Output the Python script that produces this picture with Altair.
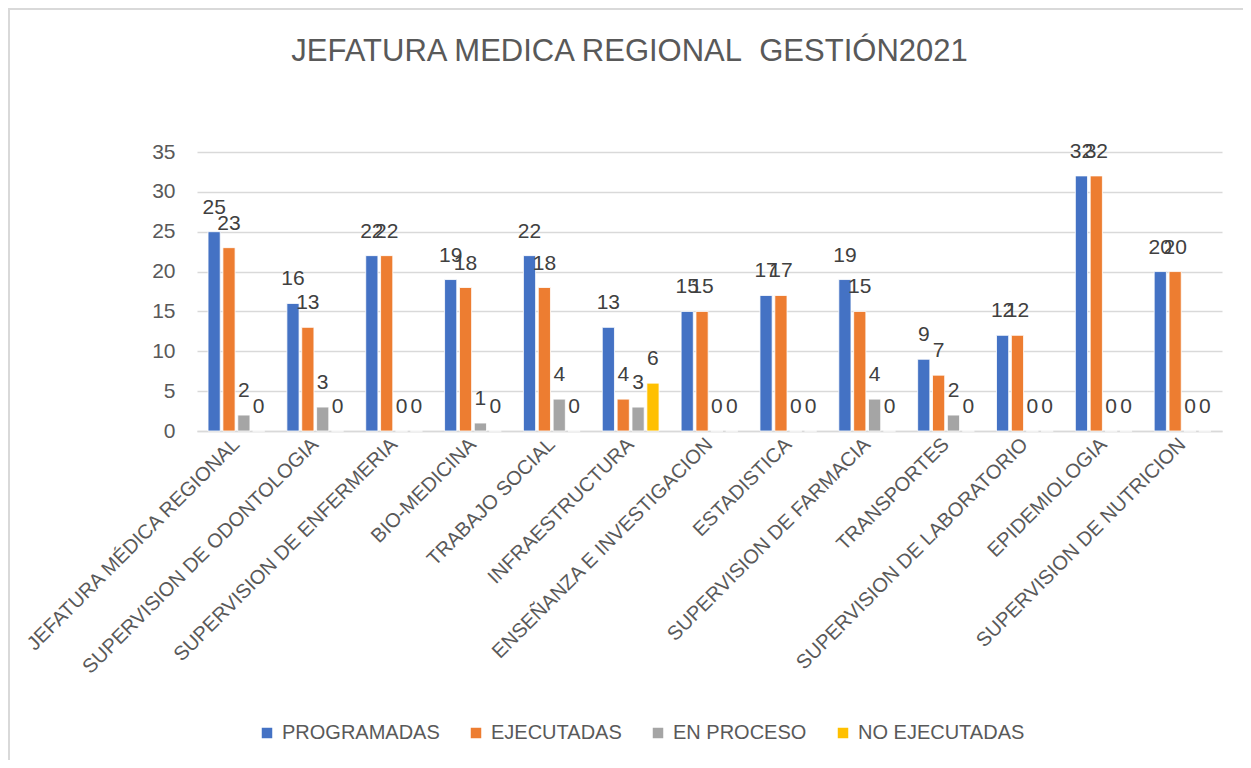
import altair as alt
import pandas as pd

categories = ["JEFATURA MÉDICA REGIONAL", "SUPERVISION DE ODONTOLOGIA", "SUPERVISION DE ENFERMERIA",
              "BIO-MEDICINA", "TRABAJO SOCIAL", "INFRAESTRUCTURA", "ENSEÑANZA E INVESTIGACION",
              "ESTADISTICA", "SUPERVISION DE FARMACIA", "TRANSPORTES", "SUPERVISION DE LABORATORIO",
              "EPIDEMIOLOGIA", "SUPERVISION DE NUTRICION"]
series = ["PROGRAMADAS", "EJECUTADAS", "EN PROCESO", "NO EJECUTADAS"]
programadas = [25, 16, 22, 19, 22, 13, 15, 17, 19, 9, 12, 32, 20]
ejecutadas = [23, 13, 22, 18, 18, 4, 15, 17, 15, 7, 12, 32, 20]
en_proceso = [2, 3, 0, 1, 4, 3, 0, 0, 4, 2, 0, 0, 0]
no_ejecutadas = [0, 0, 0, 0, 0, 6, 0, 0, 0, 0, 0, 0, 0]
colors = ["#4472C4", "#ED7D31", "#A5A5A5", "#FFC000"]

rows = []
for s, vals in zip(series, [programadas, ejecutadas, en_proceso, no_ejecutadas]):
    for c, v in zip(categories, vals):
        rows.append({"cat": c, "serie": s, "valor": v})
df = pd.DataFrame(rows)

FONT = "Liberation Sans"
TXT = "#595959"

base = alt.Chart(df).encode(
    x=alt.X("cat:N", sort=categories, title=None,
            scale=alt.Scale(paddingInner=0.28, paddingOuter=0.14),
            axis=alt.Axis(labelAngle=-45, labelAlign="right", labelBaseline="middle",
                          labelFontSize=20, labelColor=TXT, labelFont=FONT,
                          labelPadding=10, ticks=False, domainColor="#d9d9d9",
                          domainWidth=1.5, labelLimit=400)),
    xOffset=alt.XOffset("serie:N", sort=series, scale=alt.Scale(paddingInner=0.18)),
    y=alt.Y("valor:Q", title=None,
            scale=alt.Scale(domain=[0, 35], nice=False),
            axis=alt.Axis(values=[0, 5, 10, 15, 20, 25, 30, 35], labelFontSize=21,
                          labelColor=TXT, labelFont=FONT, ticks=False, domain=False,
                          gridColor="#d9d9d9", gridWidth=1.5, labelPadding=22)),
)

bars = base.mark_bar(stroke="white", strokeWidth=0.8).encode(
    color=alt.Color("serie:N", sort=series, scale=alt.Scale(domain=series, range=colors),
                    legend=alt.Legend(title=None, orient="none", direction="horizontal",
                                      legendX=60, legendY=571,
                                      symbolType="square", symbolSize=110,
                                      symbolStrokeWidth=0, labelLimit=400,
                                      labelFontSize=20, labelColor=TXT, labelFont=FONT,
                                      columnPadding=26, labelOffset=5))
)

labels = base.mark_text(baseline="alphabetic", dy=-18, fontSize=21, color="#404040", font=FONT).encode(
    text=alt.Text("valor:Q")
)

frame = alt.Chart(pd.DataFrame({"a": [0]})).mark_rect(
    fill=None, stroke="#d9d9d9", strokeWidth=2, clip=False
).encode(
    x=alt.value(-188), x2=alt.value(1060), y=alt.value(-143), y2=alt.value(640)
)

chart = alt.layer(frame, bars, labels).properties(
    width=1025, height=279,
    padding={"left": 189, "top": 144, "right": 21, "bottom": 329},
    autosize=alt.AutoSizeParams(type="none"),
    title=alt.TitleParams("JEFATURA MEDICA REGIONAL\u00a0 GESTIÓN2021", fontSize=31,
                          font=FONT, color=TXT, fontWeight="normal",
                          anchor="middle", dx=-80, offset=-60),
).configure_view(stroke=None)

chart.save("out.html", embed_options={"renderer": "svg", "actions": False})
